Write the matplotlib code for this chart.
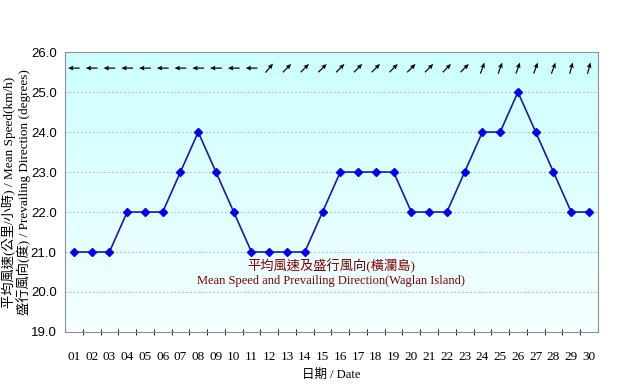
import matplotlib.pyplot as plt
import numpy as np

days = [f"{d:02d}" for d in range(1, 31)]
speed = [21, 21, 21, 22, 22, 22, 23, 24, 23, 22,
         21, 21, 21, 21, 22, 23, 23, 23, 23, 22,
         22, 22, 23, 24, 24, 25, 24, 23, 22, 22]
# prevailing direction (degrees, wind from)
direction = [90, 90, 90, 90, 90, 90, 90, 90, 90, 90,
             90, 220, 225, 225, 225, 225, 225, 225, 225, 225,
             225, 225, 225, 200, 200, 200, 200, 200, 195, 195]

plt.rcParams['font.family'] = ['Liberation Serif', 'Noto Sans CJK TC']

fig = plt.figure(figsize=(6.34, 3.86), dpi=100)
ax = fig.add_axes([0.1025, 0.140, 0.8405, 0.725])

x = np.arange(1, 31)

# gradient background
grad = np.linspace(0, 1, 256).reshape(-1, 1)
top = np.array([0.80, 1.0, 1.0])
bot = np.array([0.96, 1.0, 1.0])
img = bot + (top - bot) * grad
ax.imshow(img.reshape(256, 1, 3), aspect='auto', extent=[0.5, 30.5, 19, 26],
          origin='lower', zorder=0)

for yv in range(20, 26):
    ax.axhline(yv, color='#bcbcbc', lw=0.7, ls=(0, (2, 2)), zorder=1)

ax.plot(x, speed, color='#1a1aa8', lw=1.2, marker='D', ms=4.5,
        mfc='#0000ee', mec='#0000ee', zorder=3)

# wind direction arrows (pointing where the wind blows to)
rad = np.radians(np.array(direction) + 180)
u = np.sin(rad)
v = np.cos(rad)
ax.quiver(x, np.full(30, 25.6), u, v, angles='uv',
          scale=8.5, scale_units='inches', units='inches', width=0.012,
          headwidth=4, headlength=4.5, headaxislength=4, pivot='middle',
          color='black', zorder=4)

ax.set_xlim(0.5, 30.5)
ax.set_ylim(19, 26)
ax.set_xticks(x)
ax.set_xticklabels(days, fontsize=9.5)
ax.set_xticks(np.arange(1.5, 30.5, 1), minor=True)
ax.tick_params(axis='x', which='major', length=0, pad=14)
ax.tick_params(axis='x', which='minor', length=4, direction='inout', color='black')
ax.set_yticks(range(19, 27))
ax.set_yticklabels([f"{v:.1f}" for v in range(19, 27)], fontsize=9.5,
                   family=['Liberation Sans'])
ax.tick_params(axis='y', length=0, pad=6)

for s in ax.spines.values():
    s.set_color('#909090')
    s.set_linewidth(0.8)

ax.set_xlabel("日期 / Date", fontsize=9, labelpad=4)
ax.set_ylabel("平均風速(公里/小時) / Mean Speed(km/h)\n盛行風向(度) / Prevailing Direction (degrees)",
              fontsize=9.5, labelpad=0, linespacing=1.0)

ax.text(15.5, 20.65, "平均風速及盛行風向(橫瀾島)", ha='center', va='center',
        fontsize=9.5, color='#800000')
ax.text(15.5, 20.28, "Mean Speed and Prevailing Direction(Waglan Island)", ha='center',
        va='center', fontsize=9, color='#800000')

fig.savefig("out.png", dpi=100)
